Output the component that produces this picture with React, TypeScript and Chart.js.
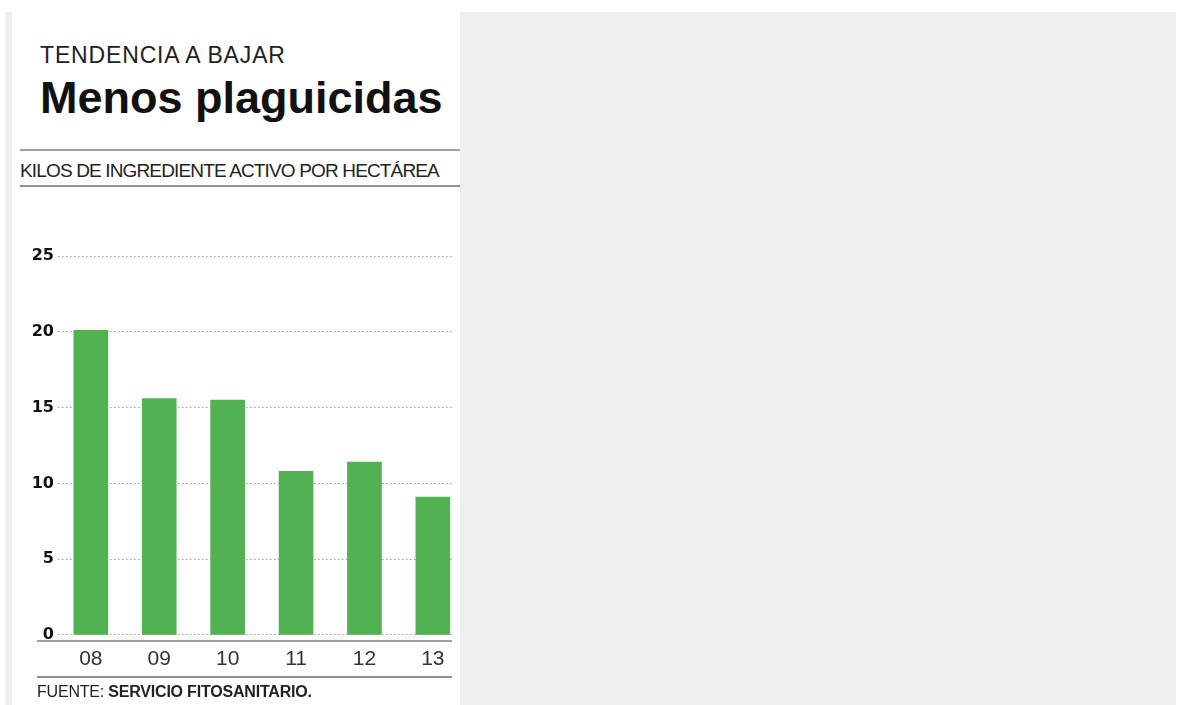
import React, { useEffect, useRef } from "react";
import { Chart, registerables } from "chart.js";

Chart.register(...registerables);

const categories = ["08", "09", "10", "11", "12", "13"];
const values = [20.1, 15.6, 15.5, 10.8, 11.4, 9.1];
const yTicks = [0, 5, 10, 15, 20, 25];

const SANS = "'Liberation Sans', Arial, Helvetica, sans-serif";

export default function App() {
  const ref = useRef<HTMLCanvasElement>(null);

  useEffect(() => {
    if (!ref.current) return;
    const axisLine = {
      id: "axisLine",
      afterDatasetsDraw(chart: any) {
        const { ctx, chartArea } = chart;
        ctx.save();
        ctx.strokeStyle = "#a0a0a0";
        ctx.lineWidth = 2;
        ctx.beginPath();
        ctx.moveTo(chartArea.left - 21, chartArea.bottom);
        ctx.lineTo(chartArea.right, chartArea.bottom);
        ctx.stroke();
        ctx.restore();
      },
    };
    const chart = new Chart(ref.current, {
      type: "bar",
      data: {
        datasets: [
          {
            data: values.map((v, i) => ({ x: i, y: v })),
            backgroundColor: "#52b252",
            barThickness: 34,
          },
        ],
      },
      options: {
        animation: false,
        responsive: false,
        maintainAspectRatio: false,
        layout: { padding: { top: 56, right: 8, left: 0, bottom: 0 } },
        plugins: { legend: { display: false }, tooltip: { enabled: false } },
        scales: {
          x: {
            type: "linear",
            offset: false,
            min: -0.48,
            max: 5.28,
            grid: { display: false, drawTicks: false, offset: false },
            border: { display: false },
            afterBuildTicks: (s: any) => {
              s.ticks = categories.map((_, i) => ({ value: i }));
            },
            afterFit: (s: any) => {
              s.height = 39;
            },
            ticks: {
              autoSkip: false,
              maxRotation: 0,
              padding: 6,
              color: "#333",
              font: { family: SANS, size: 21 },
              callback: (v: any) => categories[v] ?? "",
            },
          },
          y: {
            min: -0.4,
            max: 25,
            afterBuildTicks: (s: any) => {
              s.ticks = yTicks.map((v) => ({ value: v }));
            },
            afterFit: (s: any) => {
              s.width = 58;
            },
            grid: { color: "#9a9a9a", lineWidth: 1, drawTicks: false },
            border: { display: false, dash: [1.5, 2.5] },
            ticks: {
              padding: 4,
              color: "#111",
              font: { family: "'DejaVu Sans', sans-serif", size: 16, weight: "bold" },
            },
          },
        },
      },
      plugins: [axisLine],
    } as any);
    return () => chart.destroy();
  }, []);

  return (
    <div
      style={{
        position: "absolute",
        left: 0,
        top: 0,
        width: 1178,
        height: 705,
        overflow: "hidden",
        background: "#fff",
        fontFamily: SANS,
      }}
    >
      <div style={{ position: "absolute", left: 5, top: 12, width: 7, height: 693, background: "#efefef" }} />
      <div style={{ position: "absolute", left: 460, top: 12, width: 716, height: 693, background: "#efefef" }} />

      <div
        style={{
          position: "absolute",
          left: 40,
          top: 43.5,
          fontSize: 23,
          lineHeight: "23px",
          letterSpacing: "0.85px",
          color: "#222",
          whiteSpace: "nowrap",
        }}
      >
        TENDENCIA A BAJAR
      </div>
      <div
        style={{
          position: "absolute",
          left: 40,
          top: 75,
          fontSize: 45,
          lineHeight: "45px",
          fontWeight: "bold",
          color: "#111",
          whiteSpace: "nowrap",
        }}
      >
        Menos plaguicidas
      </div>
      <div style={{ position: "absolute", left: 20, top: 149, width: 440, height: 2, background: "#a0a0a0" }} />
      <div
        style={{
          position: "absolute",
          left: 20,
          top: 161,
          fontSize: 19,
          lineHeight: "19px",
          letterSpacing: "-0.85px",
          color: "#222",
          whiteSpace: "nowrap",
        }}
      >
        KILOS DE INGREDIENTE ACTIVO POR HECTÁREA
      </div>
      <div style={{ position: "absolute", left: 20, top: 185, width: 440, height: 2, background: "#909090" }} />

      <canvas
        ref={ref}
        width={460}
        height={480}
        style={{ position: "absolute", left: 0, top: 200, width: 460, height: 480 }}
      />

      <div style={{ position: "absolute", left: 37, top: 676, width: 415, height: 2, background: "#909090" }} />
      <div
        style={{
          position: "absolute",
          left: 37,
          top: 684,
          fontSize: 16,
          lineHeight: "16px",
          letterSpacing: "-0.2px",
          color: "#222",
          whiteSpace: "nowrap",
        }}
      >
        FUENTE: <b>SERVICIO FITOSANITARIO.</b>
      </div>
    </div>
  );
}
